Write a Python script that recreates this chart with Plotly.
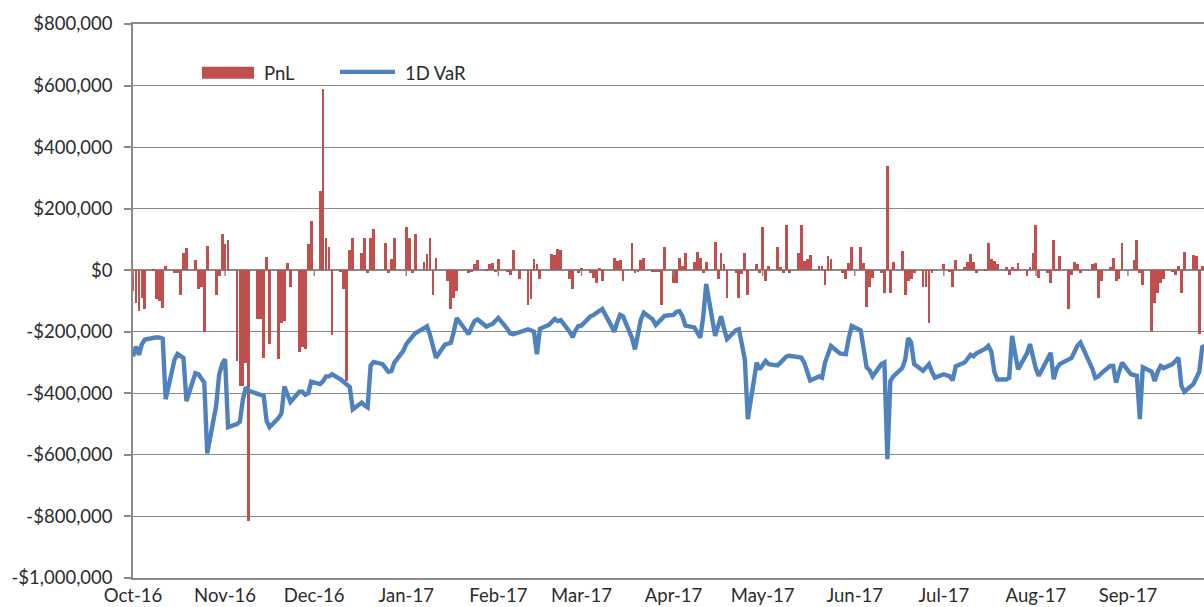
import pandas as pd
import plotly.graph_objects as go

# ---------------- data ----------------
start_date = "2016-10-03"
n_days = 260  # business days, one value per day

# Daily PnL in $ thousands (5 values per week, Mon..Fri)
pnl_k = [
    -67, -105, -132, -89, -127,
    2, -95, -100, -122, 14,
    -8, -10, -81, 55, 72,
    34, -62, -55, -200, 80,
    -81, -20, 117, 86, 98,
    -295, -375, -375, -300, -815,
    -159, -160, -285, 42, -240,
    -287, -170, -165, 22, -55,
    -267, -250, -255, 85, 160,
    257, 588, 106, 74, -211,
    -5, -62, -360, 66, 106,
    55, 106, -8, 106, 133,
    0, 88, -8, 36, 106,
    0, 139, 106, -8, 118,
    27, 52, 106, -81, 41,
    0, -35, -127, -89, -67,
    0, -8, -5, 20, 34,
    5, 20, 25, -5, 36,
    -5, -14, 65, 0, -29,
    -114, -94, 36, 20, -29,
    0, 52, 48, 68, 66,
    -29, -62, 0, -10, 8,
    -10, -24, -40, 8, -35,
    0, 41, 30, 34, -35,
    88, -8, -5, 34, 41,
    -5, -5, -5, -114, 74,
    -40, -40, 41, 15, 55,
    27, 60, 41, -8, 27,
    93, -29, 55, 20, -89,
    -10, -89, -13, 55, -81,
    20, -10, 139, -35, 14,
    74, 10, -8, 147, -10,
    55, 147, 30, 36, 49,
    14, 14, -49, 47, 36,
    0, -8, -30, 23, 74,
    74, 25, -121, -54, -24,
    -10, -73, 339, -73, 27,
    61, -81, -35, -30, -10,
    -53, -53, -170, -10, 0,
    20, 0, -5, -53, 34,
    10, 27, 52, 27, -8,
    5, 87, 38, 30, 20,
    10, -14, 12, 5, 22,
    -18, 10, 55, 146, -25,
    -8, -40, 98, 5, 47,
    -127, -14, 27, 20, -8,
    0, 20, 22, -89, -35,
    10, 41, -35, -30, 87,
    0, 32, 97, -10, -49,
    -197, -105, -73, -40, -29,
    -5, -14, 14, -73, 60,
    50, 47, -208, 14, 20,
]

# Daily 1-day VaR in $ thousands
var_k = [
    -280, -248, -275, -240, -225,
    -219, -218, -219, -222, -419,
    -290, -272, -278, -285, -425,
    -335, -338, -350, -365, -595,
    -440, -340, -305, -289, -510,
    -500, -492, -420, -380, -392,
    -400, -403, -408, -490, -510,
    -480, -465, -378, -400, -428,
    -395, -395, -405, -400, -362,
    -370, -360, -345, -345, -338,
    -355, -362, -372, -380, -452,
    -430, -440, -446, -310, -298,
    -305, -318, -330, -328, -300,
    -262, -240, -228, -215, -205,
    -188, -182, -210, -250, -284,
    -242, -240, -236, -200, -155,
    -195, -208, -185, -165, -160,
    -183, -178, -175, -165, -155,
    -190, -205, -208, -205, -200,
    -192, -195, -200, -273, -190,
    -178, -168, -158, -165, -162,
    -200, -218, -195, -181, -180,
    -150, -146, -140, -132, -126,
    -180, -200, -170, -145, -150,
    -220, -257, -200, -160, -138,
    -160, -178, -170, -158, -148,
    -145, -135, -133, -150, -180,
    -186, -200, -219, -150, -45,
    -213, -180, -150, -190, -224,
    -195, -192, -240, -290, -484,
    -300, -322, -310, -295, -305,
    -309, -300, -290, -280, -278,
    -285, -284, -300, -330, -358,
    -345, -349, -300, -270, -246,
    -270, -272, -273, -220, -181,
    -195, -250, -315, -325, -345,
    -305, -300, -614, -360, -345,
    -318, -290, -220, -235, -305,
    -327, -315, -305, -330, -349,
    -338, -340, -345, -358, -312,
    -300, -290, -275, -280, -270,
    -255, -246, -265, -330, -355,
    -355, -350, -213, -270, -322,
    -270, -240, -280, -320, -343,
    -285, -268, -354, -320, -305,
    -290, -285, -265, -245, -235,
    -295, -320, -350, -345, -335,
    -311, -311, -365, -330, -300,
    -338, -340, -343, -484, -315,
    -330, -360, -330, -311, -318,
    -305, -295, -284, -376, -395,
    -370, -350, -330, -250, -245,
]

x_tick_dates = ["2016-10-03", "2016-11-03", "2016-12-03", "2017-01-03",
                "2017-02-03", "2017-03-03", "2017-04-03", "2017-05-03",
                "2017-06-03", "2017-07-03", "2017-08-03", "2017-09-03"]
x_tick_labels = ["Oct-16", "Nov-16", "Dec-16", "Jan-17", "Feb-17", "Mar-17",
                 "Apr-17", "May-17", "Jun-17", "Jul-17", "Aug-17", "Sep-17"]

y_tick_vals = [-1000000, -800000, -600000, -400000, -200000, 0,
               200000, 400000, 600000, 800000]
y_tick_labels = ["-$1,000,000", "-$800,000", "-$600,000", "-$400,000",
                 "-$200,000", "$0", "$200,000", "$400,000", "$600,000",
                 "$800,000"]

series_names = ["PnL", "1D VaR"]

# ---------------- figure ----------------
dates = pd.bdate_range(start_date, periods=n_days)
pnl = [v * 1000 for v in pnl_k]
var = [v * 1000 for v in var_k]

RED = "#C0504D"
BLUE = "#4F81BD"
GRID = "#8a8a8a"
TXT = "#2b2b2b"
FONT = "Lato"
FS = 18.5

fig = go.Figure()
fig.add_trace(go.Bar(
    x=dates, y=pnl, name=series_names[0],
    marker=dict(color=RED, line=dict(width=0)),
    width=0.95 * 86400000,
))
fig.add_trace(go.Scatter(
    x=dates, y=var, name=series_names[1], mode="lines",
    line=dict(color=BLUE, width=4.4),
))

# small tick marks on the horizontal (zero) axis
shapes = []
for d in x_tick_dates:
    shapes.append(dict(type="line", xref="x", yref="y", x0=d, x1=d,
                       y0=0, y1=-19000, line=dict(color=GRID, width=1.5),
                       layer="above"))

# custom legend (Excel-like wide glyphs)
shapes.append(dict(type="rect", xref="paper", yref="paper",
                   x0=0.0644, x1=0.1130, y0=0.9010, y1=0.9230,
                   fillcolor=RED, line=dict(width=0)))
shapes.append(dict(type="line", xref="paper", yref="paper",
                   x0=0.1933, x1=0.2446, y0=0.9135, y1=0.9135,
                   line=dict(color=BLUE, width=4.4)))
annotations = [
    dict(text=series_names[0], xref="paper", yref="paper", x=0.1204, y=0.9120,
         xanchor="left", yanchor="middle", showarrow=False,
         font=dict(family=FONT, size=FS, color=TXT)),
    dict(text=series_names[1], xref="paper", yref="paper", x=0.2521, y=0.9120,
         xanchor="left", yanchor="middle", showarrow=False,
         font=dict(family=FONT, size=FS, color=TXT)),
]

fig.update_layout(
    width=1204, height=607,
    margin=dict(l=133, r=0, t=24, b=29),
    plot_bgcolor="white", paper_bgcolor="white",
    showlegend=False, bargap=0,
    shapes=shapes, annotations=annotations,
    font=dict(family=FONT, size=FS, color=TXT),
)
fig.update_xaxes(
    type="date",
    range=["2016-10-03", "2017-09-28 14:24"],
    tickvals=x_tick_dates, ticktext=x_tick_labels,
    ticks="", showgrid=False,
    showline=True, mirror=True, linecolor=GRID, linewidth=1.5,
    tickfont=dict(family=FONT, size=FS, color=TXT),
    ticklabelstandoff=0,
)
fig.update_yaxes(
    range=[-1000000, 800000],
    tickvals=y_tick_vals, ticktext=y_tick_labels,
    showgrid=True, gridcolor=GRID, gridwidth=1.4,
    zeroline=True, zerolinecolor=GRID, zerolinewidth=1.6,
    showline=True, linecolor=GRID, linewidth=1.5,
    ticks="outside", ticklen=7, tickcolor=GRID, tickwidth=1.5,
    tickfont=dict(family=FONT, size=FS, color=TXT),
    ticklabelstandoff=8,
)

# remove the default page margin so the figure sits at the window's corner
fig.write_html(
    "out.html",
    config={"displayModeBar": False},
    post_script="document.body.style.margin='0';document.body.style.overflow='hidden';",
)
